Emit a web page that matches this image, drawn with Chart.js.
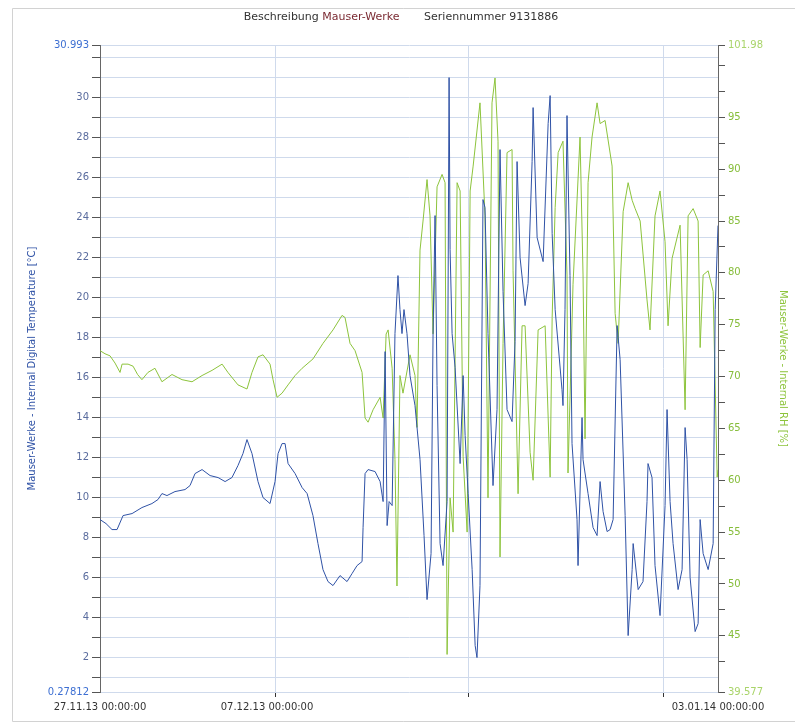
<!DOCTYPE html>
<html>
<head>
<meta charset="utf-8">
<script src="https://cdn.jsdelivr.net/npm/chart.js@4.4.0/dist/chart.umd.min.js"></script>
<style>
    html, body { margin: 0; padding: 0; background: #fff; }
    canvas { display: block; }
</style>
</head>
<body>
<canvas id="chart" width="795" height="724"></canvas>
<script>
// x axis: days since 27.11.13 00:00:00
const tickDays = [0, 10, 37];
const tickLabels = ['27.11.13 00:00:00', '07.12.13 00:00:00', '03.01.14 00:00:00'];
const gridDays = [10.48, 22.04, 33.71];

// left axis (temperature) and right axis (RH) ranges + end labels
const tempRange = [0.27812, 32.63];
const tempEndLabels = ['0.27812', '30.993'];
const rhRange = [39.577, 101.98];
const rhEndLabels = ['39.577', '101.98'];

// Internal Digital Temperature [°C]
const tempDays = [0.00, 0.36, 0.72, 1.02, 1.38, 1.92, 2.51, 3.11, 3.47, 3.71, 4.01, 4.49, 5.09, 5.39, 5.69, 6.11, 6.59, 7.07, 7.49, 7.90,
    8.26, 8.56, 8.80, 9.10, 9.46, 9.76, 10.18, 10.48, 10.66, 10.90, 11.08, 11.26, 11.68, 12.10, 12.40, 12.75, 13.05, 13.35, 13.65, 13.95,
    14.37, 14.79, 15.09, 15.39, 15.69, 15.75, 15.87, 16.05, 16.47, 16.77, 16.95, 17.07, 17.19, 17.31, 17.49, 17.66, 17.84, 17.96, 18.08, 18.20,
    18.38, 18.56, 18.86, 19.16, 19.40, 19.58, 19.82, 19.94, 20.06, 20.18, 20.36, 20.54, 20.78, 20.90, 20.96, 21.08, 21.26, 21.56, 21.74, 21.86,
    22.04, 22.28, 22.46, 22.57, 22.75, 22.93, 23.05, 23.23, 23.53, 23.77, 23.95, 24.13, 24.37, 24.67, 24.85, 24.97, 25.15, 25.45, 25.63, 25.87,
    25.93, 26.17, 26.53, 26.83, 26.95, 27.07, 27.25, 27.66, 27.72, 27.84, 27.96, 28.14, 28.26, 28.56, 28.62, 28.86, 28.92, 29.22, 29.52, 29.76,
    29.94, 30.12, 30.36, 30.54, 30.72, 30.96, 31.14, 31.44, 31.62, 31.86, 31.92, 32.22, 32.51, 32.75, 32.81, 33.05, 33.23, 33.53, 33.83, 33.95,
    34.13, 34.31, 34.61, 34.85, 35.03, 35.15, 35.33, 35.63, 35.81, 35.93, 36.11, 36.41, 36.71, 36.83, 37.00];
const tempValues = [8.9, 8.7, 8.4, 8.4, 9.1, 9.2, 9.5, 9.7, 9.9, 10.2, 10.1, 10.3, 10.4, 10.6, 11.2, 11.4, 11.1, 11.0, 10.8, 11.0,
    11.6, 12.2, 12.9, 12.2, 10.8, 10.0, 9.7, 10.8, 12.2, 12.7, 12.7, 11.7, 11.2, 10.5, 10.2, 9.1, 7.7, 6.4, 5.8, 5.6,
    6.1, 5.8, 6.2, 6.6, 6.8, 8.5, 11.2, 11.4, 11.3, 10.8, 9.8, 17.3, 8.6, 9.8, 9.6, 18.2, 21.1, 19.4, 18.2, 19.4,
    18.2, 16.1, 14.6, 11.9, 8.1, 4.9, 7.2, 18.2, 24.1, 15.6, 7.7, 6.6, 9.8, 31.0, 22.4, 18.2, 16.5, 11.7, 16.1, 13.1,
    10.2, 6.4, 2.6, 2.0, 5.6, 24.9, 24.5, 18.2, 10.6, 14.4, 27.4, 20.3, 14.4, 13.8, 17.8, 26.8, 22.0, 19.6, 20.7, 26.8,
    29.5, 23.0, 21.8, 28.7, 30.1, 23.2, 19.4, 15.4, 14.6, 19.4, 29.1, 21.1, 12.7, 8.9, 6.6, 14.0, 11.9, 10.2, 8.5, 8.1,
    10.8, 9.3, 8.3, 8.4, 8.9, 18.6, 16.9, 9.1, 3.1, 6.4, 7.7, 5.4, 5.8, 9.8, 11.7, 11.0, 6.6, 4.1, 9.6, 14.4,
    9.8, 7.7, 5.4, 6.4, 13.5, 11.9, 6.0, 3.3, 3.7, 8.9, 7.2, 6.4, 7.7, 19.4, 23.6];

// Internal RH [%]
const rhDays = [0.00, 0.30, 0.60, 0.90, 1.20, 1.32, 1.68, 1.98, 2.25, 2.51, 2.87, 3.29, 3.71, 4.31, 4.91, 5.51, 6.11, 6.71, 7.31, 7.66,
    8.26, 8.80, 9.10, 9.46, 9.76, 10.18, 10.36, 10.60, 10.90, 11.26, 11.68, 12.10, 12.75, 13.35, 13.95, 14.49, 14.67, 14.97, 15.27, 15.69,
    15.87, 16.05, 16.35, 16.77, 16.95, 17.13, 17.25, 17.49, 17.66, 17.78, 17.96, 18.14, 18.56, 18.86, 18.98, 19.16, 19.34, 19.58, 19.76, 19.94,
    20.18, 20.48, 20.66, 20.78, 20.96, 21.14, 21.38, 21.56, 21.74, 21.98, 22.16, 22.34, 22.75, 23.05, 23.23, 23.47, 23.65, 23.83, 23.95, 24.13,
    24.37, 24.67, 24.73, 25.03, 25.27, 25.45, 25.75, 25.93, 26.23, 26.65, 26.95, 27.07, 27.25, 27.43, 27.72, 27.96, 28.02, 28.32, 28.74, 28.92,
    29.04, 29.22, 29.46, 29.76, 29.94, 30.24, 30.66, 30.84, 31.02, 31.32, 31.62, 31.86, 32.04, 32.34, 32.75, 32.93, 33.23, 33.53, 33.83, 34.01,
    34.25, 34.73, 35.03, 35.21, 35.51, 35.81, 35.93, 36.11, 36.41, 36.71, 36.95, 37.00];
const rhValues = [72.5, 72.2, 72.0, 71.3, 70.4, 71.2, 71.2, 71.0, 70.2, 69.7, 70.4, 70.8, 69.5, 70.2, 69.7, 69.5, 70.1, 70.6, 71.2, 70.4,
    69.2, 68.8, 70.4, 71.9, 72.1, 71.2, 69.7, 68.0, 68.4, 69.2, 70.1, 70.8, 71.7, 73.2, 74.5, 75.9, 75.7, 73.2, 72.5, 70.4,
    66.0, 65.6, 66.8, 68.0, 66.0, 74.1, 74.5, 70.8, 62.0, 49.8, 70.1, 68.4, 72.1, 70.1, 65.1, 82.2, 85.0, 89.0, 85.5, 74.1,
    88.3, 89.5, 88.7, 43.2, 58.3, 55.0, 88.7, 87.9, 62.3, 55.0, 87.9, 90.3, 96.4, 85.5, 58.3, 96.4, 98.8, 92.7, 52.6, 73.2,
    91.6, 91.9, 80.2, 58.7, 74.9, 74.9, 62.7, 60.0, 74.5, 74.9, 60.3, 75.7, 86.3, 91.6, 92.7, 79.8, 60.7, 78.9, 93.1, 79.8,
    64.0, 88.7, 93.1, 96.4, 94.4, 94.7, 90.3, 76.1, 73.2, 85.9, 88.7, 87.0, 86.2, 85.0, 77.4, 74.5, 85.5, 87.9, 83.0, 74.9,
    81.4, 84.6, 66.8, 85.5, 86.2, 85.0, 72.8, 79.8, 80.2, 78.2, 60.3, 61.0];

const BLUE = '#2f52a6';
const GREEN = '#8dc43c';
const GRID = '#cfdaec';

function toPoints(days, values) {
    return days.map((d, i) => ({ x: d, y: values[i] }));
}

// white background, thin frame and the two-coloured title
const framePlugin = {
    id: 'frame',
    beforeDraw(chart) {
        const ctx = chart.ctx;
        ctx.save();
        ctx.fillStyle = '#fff';
        ctx.fillRect(0, 0, chart.width, chart.height);
        ctx.strokeStyle = '#d2d2d2';
        ctx.lineWidth = 1;
        ctx.beginPath();
        ctx.moveTo(chart.width, 8.5);
        ctx.lineTo(12.5, 8.5);
        ctx.lineTo(12.5, 721.5);
        ctx.lineTo(chart.width, 721.5);
        ctx.stroke();
        ctx.restore();
    },
    afterDraw(chart) {
        const ctx = chart.ctx;
        const parts = [
            ['Beschreibung ', '#333'],
            ['Mauser-Werke', '#7b2b33'],
            ['       Seriennummer 9131886', '#333']
        ];
        ctx.save();
        ctx.font = '11px "DejaVu Sans"';
        ctx.textBaseline = 'middle';
        const total = parts.reduce((w, p) => w + ctx.measureText(p[0]).width, 0);
        let x = 401 - total / 2;
        parts.forEach(([text, color]) => {
            ctx.fillStyle = color;
            ctx.fillText(text, x, 17);
            x += ctx.measureText(text).width;
        });
        ctx.restore();
    }
};

function buildTicks(scale, values) {
    scale.ticks = values.map(v => ({ value: v }));
}

const tempTicks = [tempRange[0]];
for (let v = 1; v <= 32; v++) tempTicks.push(v);
tempTicks.push(tempRange[1]);

const rhTicks = [rhRange[0]];
for (let v = 42.5; v <= 100; v += 2.5) rhTicks.push(v);
rhTicks.push(rhRange[1]);

const ctx = document.getElementById('chart').getContext('2d');
const chart = new Chart(ctx, {
    type: 'line',
    data: {
        datasets: [{
            label: 'Mauser-Werke - Internal Digital Temperature [°C]',
            data: toPoints(tempDays, tempValues),
            borderColor: BLUE,
            borderWidth: 1,
            pointRadius: 0,
            tension: 0,
            yAxisID: 'yT'
        }, {
            label: 'Mauser-Werke - Internal RH [%]',
            data: toPoints(rhDays, rhValues),
            borderColor: GREEN,
            borderWidth: 1,
            pointRadius: 0,
            tension: 0,
            yAxisID: 'yH'
        }]
    },
    options: {
        responsive: false,
        animation: false,
        devicePixelRatio: 1,
        layout: { padding: { left: 24, right: 4, top: 45, bottom: 0 } },
        plugins: {
            legend: { display: false },
            tooltip: { enabled: false }
        },
        scales: {
            x: {
                type: 'linear',
                min: 0,
                max: 37,
                afterBuildTicks: s => buildTicks(s, [...tickDays, ...gridDays].sort((a, b) => a - b)),
                afterFit: s => { s.height = 32; },
                border: { display: false },
                grid: {
                    color: c => gridDays.includes(c.tick.value) ? GRID : 'rgba(0,0,0,0)',
                    tickColor: c => gridDays.includes(c.tick.value) ? '#333' : 'rgba(0,0,0,0)',
                    tickLength: 5
                },
                ticks: {
                    autoSkip: false,
                    maxRotation: 0,
                    padding: 4,
                    color: '#333',
                    font: { family: 'DejaVu Sans', size: 10 },
                    callback: v => {
                        const i = tickDays.indexOf(v);
                        return i >= 0 ? tickLabels[i] : '';
                    }
                }
            },
            yT: {
                type: 'linear',
                position: 'left',
                min: tempRange[0],
                max: tempRange[1],
                afterBuildTicks: s => buildTicks(s, tempTicks),
                afterFit: s => { s.width = 76; },
                border: { display: true, color: '#666' },
                grid: {
                    color: GRID,
                    tickColor: '#555',
                    tickLength: 8
                },
                title: {
                    display: true,
                    text: 'Mauser-Werke - Internal Digital Temperature [°C]',
                    color: '#2f52a6',
                    font: { family: 'DejaVu Sans', size: 10 },
                    padding: 2
                },
                ticks: {
                    autoSkip: false,
                    padding: 3,
                    font: { family: 'DejaVu Sans', size: 10 },
                    color: c => (c.tick.value === tempRange[0] || c.tick.value === tempRange[1]) ? '#3d6fd2' : '#5a6c9e',
                    callback: v => {
                        if (v === tempRange[0]) return tempEndLabels[0];
                        if (v === tempRange[1]) return tempEndLabels[1];
                        return (v % 2 === 0 && v <= 30) ? String(v) : '';
                    }
                }
            },
            yH: {
                type: 'linear',
                position: 'right',
                min: rhRange[0],
                max: rhRange[1],
                afterBuildTicks: s => buildTicks(s, rhTicks),
                afterFit: s => { s.width = 73; },
                border: { display: true, color: '#666' },
                grid: {
                    drawOnChartArea: false,
                    tickColor: '#555',
                    tickLength: 7
                },
                title: {
                    display: true,
                    text: 'Mauser-Werke - Internal RH [%]',
                    color: '#8dc43c',
                    font: { family: 'DejaVu Sans', size: 10 },
                    padding: 2
                },
                ticks: {
                    autoSkip: false,
                    padding: 3,
                    font: { family: 'DejaVu Sans', size: 10 },
                    color: c => (c.tick.value === rhRange[0] || c.tick.value === rhRange[1]) ? '#a9d46a' : '#86bd3a',
                    callback: v => {
                        if (v === rhRange[0]) return rhEndLabels[0];
                        if (v === rhRange[1]) return rhEndLabels[1];
                        return (v % 5 === 0 && v >= 45 && v <= 95) ? String(v) : '';
                    }
                }
            }
        }
    },
    plugins: [framePlugin]
});
</script>
</body>
</html>
